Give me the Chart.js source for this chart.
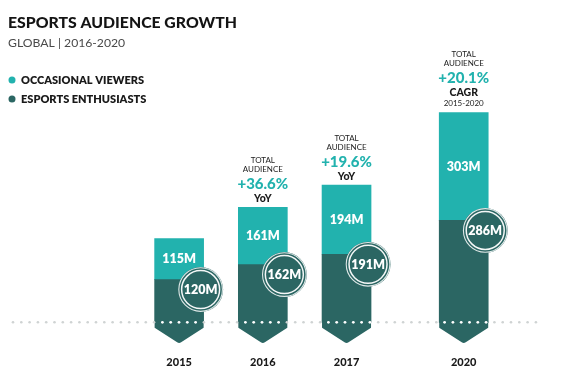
<!DOCTYPE html>
<html>
<head>
<meta charset="utf-8">
<script src="https://cdn.jsdelivr.net/npm/chart.js@4.4.1/dist/chart.umd.min.js"></script>
<style>
  html, body { margin: 0; padding: 0; background: #ffffff; }
  #wrap { position: relative; width: 565px; height: 379px; }
</style>
</head>
<body>
<div id="wrap"><canvas id="c" width="565" height="379"></canvas></div>
<script>
// ---- data ----
const years = ['2015', '2016', '2017', '2020'];
const occasionalViewers = [115, 161, 194, 303];
const esportsEnthusiasts = [120, 162, 191, 286];
const growthValues = ['', '+36.6%', '+19.6%', '+20.1%'];
const growthTypes = ['', 'YoY', 'YoY', 'CAGR'];
const growthPeriods = ['', '', '', '2015-2020'];
const seriesNames = ['OCCASIONAL VIEWERS', 'ESPORTS ENTHUSIASTS'];
const titleText = 'ESPORTS AUDIENCE GROWTH';
const subtitleText = 'GLOBAL | 2016-2020';

// ---- styling ----
const TEAL = '#22b2ae';
const DARK = '#2b6663';
const FONT = 'Lato, "Open Sans", sans-serif';

// slot index along the x axis: one step per bar, plus a small gap for skipped years
const slots = [];
years.forEach((y, i) => {
  if (i === 0) { slots.push(0); return; }
  const skipped = (+y) - (+years[i - 1]) - 1;
  slots.push(slots[i - 1] + 1 + 0.2 * skipped);
});

const decor = {
  id: 'decor',
  beforeDraw(chart) {
    const ctx = chart.ctx;
    ctx.save();
    ctx.fillStyle = '#ffffff';
    ctx.fillRect(0, 0, chart.width, chart.height);
    // title
    ctx.fillStyle = '#141414';
    ctx.textBaseline = 'alphabetic';
    ctx.textAlign = 'left';
    ctx.font = '900 15.8px ' + FONT;
    ctx.fillText(titleText, 8, 28);
    ctx.fillStyle = '#4a4a4a';
    ctx.font = '400 12.2px ' + FONT;
    ctx.fillText(subtitleText, 8, 47);
    // legend
    const cols = [TEAL, DARK];
    seriesNames.forEach((n, i) => {
      const y = 80 + i * 19;
      ctx.beginPath();
      ctx.fillStyle = cols[i];
      ctx.arc(12, y, 3.5, 0, Math.PI * 2);
      ctx.fill();
      ctx.fillStyle = '#1a1a1a';
      ctx.font = '800 11px ' + FONT;
      ctx.textBaseline = 'middle';
      ctx.fillText(n, 21, y + 0.5);
    });
    ctx.restore();
  },
  afterDatasetsDraw(chart) {
    const ctx = chart.ctx;
    const ys = chart.scales.y;
    const y0 = ys.getPixelForValue(0);
    const darkMeta = chart.getDatasetMeta(0);
    const tealMeta = chart.getDatasetMeta(1);
    ctx.save();
    // chevrons below the baseline
    const ranges = [];
    darkMeta.data.forEach((bar) => {
      const w = bar.width, l = bar.x - w / 2, r = bar.x + w / 2;
      ranges.push([l, r]);
      ctx.beginPath();
      ctx.moveTo(l, y0 - 1);
      ctx.lineTo(r, y0 - 1);
      ctx.lineTo(r, y0 + 5.5);
      ctx.lineTo(bar.x + 2, y0 + 20);
      ctx.quadraticCurveTo(bar.x, y0 + 21.5, bar.x - 2, y0 + 20);
      ctx.lineTo(l, y0 + 5.5);
      ctx.closePath();
      ctx.fillStyle = DARK;
      ctx.fill();
    });
    // dotted baseline
    for (let x = 13; x <= 536; x += 8.3) {
      const inside = ranges.some(([l, r]) => x > l + 1 && x < r - 1);
      ctx.beginPath();
      ctx.fillStyle = inside ? '#ffffff' : '#cfd3d3';
      ctx.arc(x, y0, inside ? 1.4 : 1.3, 0, Math.PI * 2);
      ctx.fill();
    }
    // teal segment labels
    ctx.textAlign = 'center';
    ctx.textBaseline = 'middle';
    tealMeta.data.forEach((bar, i) => {
      const yc = (bar.y + bar.base) / 2;
      ctx.fillStyle = '#ffffff';
      ctx.font = '800 12.5px ' + FONT;
      ctx.fillText(occasionalViewers[i] + 'M', bar.x, yc);
    });
    // circles with enthusiasts values
    darkMeta.data.forEach((bar, i) => {
      const cx = bar.x + bar.width / 2 - 3;
      const cy = bar.y + 10;
      ctx.beginPath();
      ctx.arc(cx, cy, 22.5, 0, Math.PI * 2);
      ctx.fillStyle = DARK;
      ctx.fill();
      ctx.beginPath();
      ctx.arc(cx, cy, 21.8, 0, Math.PI * 2);
      ctx.strokeStyle = 'rgba(255,255,255,0.85)';
      ctx.lineWidth = 1.1;
      ctx.stroke();
      ctx.beginPath();
      ctx.arc(cx, cy, 19, 0, Math.PI * 2);
      ctx.strokeStyle = 'rgba(255,255,255,0.95)';
      ctx.lineWidth = 1.5;
      ctx.stroke();
      ctx.fillStyle = '#ffffff';
      ctx.font = '800 12.5px ' + FONT;
      ctx.fillText(esportsEnthusiasts[i] + 'M', cx, cy + 0.5);
    });
    // growth annotations above bars
    tealMeta.data.forEach((bar, i) => {
      if (!growthValues[i]) return;
      let y = bar.y - 9;
      if (growthPeriods[i]) {
        ctx.fillStyle = '#222';
        ctx.font = '400 8px ' + FONT;
        ctx.fillText(growthPeriods[i], bar.x, y);
        y -= 11;
      }
      ctx.fillStyle = '#1a1a1a';
      ctx.font = '900 10.5px ' + FONT;
      ctx.fillText(growthTypes[i], bar.x, y);
      y -= 14.5;
      ctx.fillStyle = TEAL;
      ctx.font = '900 15px ' + FONT;
      ctx.fillText(growthValues[i], bar.x, y);
      y -= 14.5;
      ctx.fillStyle = '#222';
      ctx.font = '400 8px ' + FONT;
      ctx.fillText('AUDIENCE', bar.x, y);
      y -= 9;
      ctx.fillText('TOTAL', bar.x, y);
    });
    ctx.restore();
  }
};

new Chart(document.getElementById('c'), {
  type: 'bar',
  data: {
    datasets: [
      {
        label: seriesNames[1],
        data: esportsEnthusiasts.map((v, i) => ({ x: slots[i], y: v })),
        backgroundColor: DARK,
        barThickness: 49,
        borderWidth: 0
      },
      {
        label: seriesNames[0],
        data: occasionalViewers.map((v, i) => ({ x: slots[i], y: v })),
        backgroundColor: TEAL,
        barThickness: 49,
        borderWidth: 0
      }
    ]
  },
  options: {
    responsive: false,
    animation: false,
    events: [],
    layout: { padding: { left: 0, right: 0, top: 16, bottom: 5 } },
    plugins: { legend: { display: false }, tooltip: { enabled: false }, title: { display: false } },
    scales: {
      x: {
        type: 'linear',
        stacked: true,
        offset: false,
        min: -2.14,
        max: 4.61,
        grid: { display: false, drawTicks: false },
        border: { display: false },
        afterBuildTicks(scale) { scale.ticks = slots.map(v => ({ value: v })); },
        ticks: {
          padding: 5,
          color: '#1a1a1a',
          font: { family: FONT, size: 11, weight: '900' },
          callback(value) { const i = slots.indexOf(value); return i >= 0 ? years[i] : ''; }
        }
      },
      y: {
        stacked: true,
        display: false,
        min: -80,
        max: 860
      }
    }
  },
  plugins: [decor]
});
</script>
</body>
</html>
